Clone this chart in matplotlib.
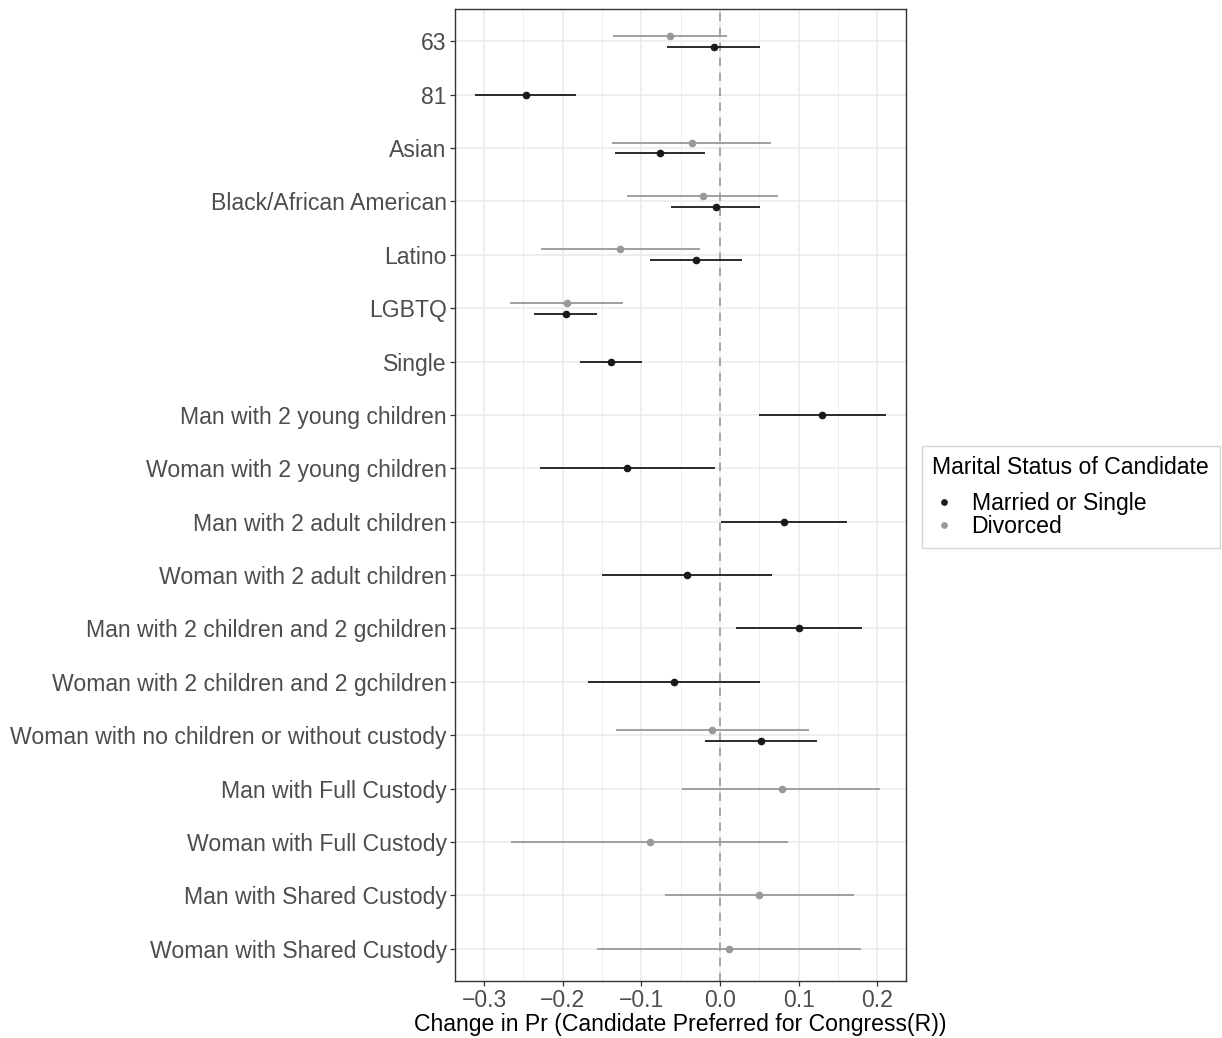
import matplotlib
matplotlib.use("Agg")
import matplotlib.pyplot as plt
from matplotlib.ticker import MultipleLocator
from matplotlib.lines import Line2D
import numpy as np

plt.rcParams['font.family'] = ['Liberation Sans', 'DejaVu Sans']

categories = ["63", "81", "Asian", "Black/African American", "Latino", "LGBTQ", "Single",
              "Man with 2 young children", "Woman with 2 young children",
              "Man with 2 adult children", "Woman with 2 adult children",
              "Man with 2 children and 2 gchildren", "Woman with 2 children and 2 gchildren",
              "Woman with no children or without custody", "Man with Full Custody",
              "Woman with Full Custody", "Man with Shared Custody", "Woman with Shared Custody"]

# Married or Single
married_cat = ["63", "81", "Asian", "Black/African American", "Latino", "LGBTQ", "Single",
               "Man with 2 young children", "Woman with 2 young children",
               "Man with 2 adult children", "Woman with 2 adult children",
               "Man with 2 children and 2 gchildren", "Woman with 2 children and 2 gchildren",
               "Woman with no children or without custody"]
married_est = [-0.008, -0.247, -0.076, -0.0055, -0.0305, -0.196, -0.139, 0.130, -0.118,
               0.081, -0.042, 0.101, -0.0585, 0.052]
married_lo = [-0.067, -0.311, -0.133, -0.062, -0.089, -0.237, -0.178, 0.0496, -0.229,
              0.0013, -0.150, 0.0208, -0.168, -0.019]
married_hi = [0.051, -0.183, -0.019, 0.051, 0.028, -0.156, -0.099, 0.211, -0.006,
              0.161, 0.066, 0.181, 0.0505, 0.123]

# Divorced
divorced_cat = ["63", "Asian", "Black/African American", "Latino", "LGBTQ",
                "Woman with no children or without custody", "Man with Full Custody",
                "Woman with Full Custody", "Man with Shared Custody", "Woman with Shared Custody"]
divorced_est = [-0.064, -0.036, -0.022, -0.127, -0.195, -0.0097, 0.0785, -0.089, 0.050, 0.011]
divorced_lo = [-0.136, -0.137, -0.118, -0.228, -0.267, -0.132, -0.048, -0.266, -0.070, -0.157]
divorced_hi = [0.0085, 0.065, 0.074, -0.025, -0.123, 0.113, 0.204, 0.087, 0.170, 0.180]

col_m = "#1a1a1a"
col_d = "#999999"
fs = 16.6

fig = plt.figure(figsize=(12.22, 10.38), dpi=100)
ax = fig.add_axes([455/1222, 1 - 980.7/1038, (906-455)/1222, (980.7-9.3)/1038])

n = len(categories)
pos = {c: n - i for i, c in enumerate(categories)}
both = set(married_cat) & set(divorced_cat)
dodge = 0.1

for c, e, lo, hi in zip(married_cat, married_est, married_lo, married_hi):
    y = pos[c] - (dodge if c in both else 0)
    ax.plot([lo, hi], [y, y], color=col_m, lw=1.3, solid_capstyle='butt', zorder=3)
    ax.plot(e, y, 'o', color=col_m, ms=4.5, zorder=4)
for c, e, lo, hi in zip(divorced_cat, divorced_est, divorced_lo, divorced_hi):
    y = pos[c] + (dodge if c in both else 0)
    ax.plot([lo, hi], [y, y], color=col_d, lw=1.3, solid_capstyle='butt', zorder=3)
    ax.plot(e, y, 'o', color=col_d, ms=4.5, zorder=4)

ax.axvline(0, color="#999999", lw=1.2, ls=(0, (5, 4)), zorder=2)

ax.set_xlim(-0.337, 0.2366)
ax.set_ylim(0.4, n + 0.6)
ax.set_yticks([pos[c] for c in categories])
ax.set_yticklabels(categories)
ax.xaxis.set_major_locator(MultipleLocator(0.1))
ax.xaxis.set_minor_locator(MultipleLocator(0.05))
ax.set_xticks(np.arange(-0.3, 0.21, 0.1))
ax.set_xticklabels(["\u22120.3", "\u22120.2", "\u22120.1", "0.0", "0.1", "0.2"])

ax.grid(which='major', color="#ebebeb", lw=1.1, zorder=0)
ax.grid(which='minor', axis='x', color="#ebebeb", lw=0.6, zorder=0)
ax.set_axisbelow(True)
ax.tick_params(axis='both', which='major', labelsize=fs, labelcolor="#4d4d4d",
               color="#333333", length=3.5, width=0.9, pad=2.5)
ax.tick_params(axis='x', which='minor', length=0)
for s in ax.spines.values():
    s.set_color("#333333")
    s.set_linewidth(1.0)

ax.set_xlabel("Change in Pr (Candidate Preferred for Congress(R))", fontsize=16.6,
              color="black", labelpad=1)

handles = [Line2D([], [], marker='o', ls='', color=col_m, ms=3.8),
           Line2D([], [], marker='o', ls='', color=col_d, ms=3.8)]
leg = fig.legend(handles, ["Married or Single", "Divorced"], title="Marital Status of Candidate",
                 loc='upper left', bbox_to_anchor=(922/1222, 1 - 446/1038),
                 fontsize=fs, title_fontsize=fs, frameon=True, fancybox=False,
                 handlelength=1.0, handletextpad=0.7, labelspacing=0.0,
                 borderpad=0.45, borderaxespad=0, alignment='left')
leg._legend_box.sep = 9
leg.get_frame().set_edgecolor("#cccccc")
leg.get_frame().set_linewidth(1.0)

fig.savefig("out.png", dpi=100)
